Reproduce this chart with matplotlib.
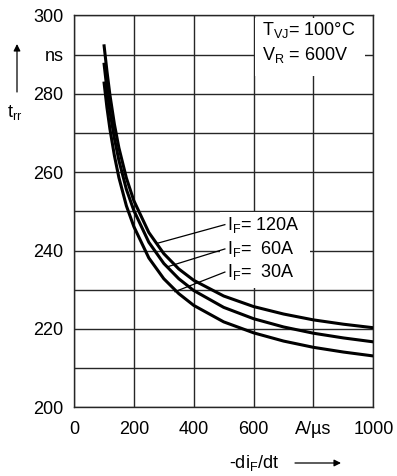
import matplotlib
matplotlib.use("Agg")
from matplotlib import pyplot as plt
from matplotlib.patches import Rectangle

plt.rcParams['font.family'] = ['Liberation Sans', 'DejaVu Sans']
plt.rcParams['mathtext.default'] = 'regular'

# curve readings (di/dt in A/us, trr in ns)
di_dt = [100, 110, 120, 135, 150, 175, 200, 250, 300, 350, 400, 500, 600, 700, 800, 900, 1000]
t_120 = [292.6, 285.8, 279.7, 272.2, 266.2, 258.5, 252.7, 244.6, 239.2, 235.3, 232.4, 228.4,
         225.7, 223.8, 222.3, 221.2, 220.3]
t_60 = [287.9, 281.2, 275.5, 268.6, 263.0, 255.6, 250.2, 242.1, 236.7, 232.8, 229.8, 225.5,
        222.6, 220.5, 218.9, 217.7, 216.7]
t_30 = [283.1, 276.5, 271.0, 264.2, 258.6, 251.4, 246.1, 238.1, 232.8, 229.0, 226.0, 221.8,
        219.0, 216.9, 215.3, 214.1, 213.1]

x_ticks = [0, 200, 400, 600, 800, 1000]
x_ticklabels = ['0', '200', '400', '600', 'A/\u00b5s', '1000']
y_ticks = list(range(200, 301, 10))
y_ticklabels = ['200', '', '220', '', '240', '', '260', '', '280', 'ns', '300']

labels = ['I$_F$= 120A', 'I$_F$=  60A', 'I$_F$=  30A']

fig = plt.figure(figsize=(3.97, 4.76), dpi=100)
ax = fig.add_axes([0.1864, 0.1443, 0.754, 0.8235])

for ts in [t_120, t_60, t_30]:
    ax.plot(di_dt, ts, color='black', lw=2.2, solid_capstyle='butt', zorder=4)

ax.set_xlim(0, 1000)
ax.set_ylim(200, 300)
ax.set_xticks(x_ticks)
ax.set_xticklabels(x_ticklabels)
ax.set_yticks(y_ticks)
ax.set_yticklabels(y_ticklabels)
ax.tick_params(length=0, labelsize=13)
ax.tick_params(axis='y', pad=7.5)
ax.tick_params(axis='x', pad=10)
ax.grid(True, color='0.15', lw=1.0)
for s in ax.spines.values():
    s.set_linewidth(1.0)
    s.set_color('0.15')

# conditions box top right
ax.add_patch(Rectangle((605, 284.5), 367, 14.8, facecolor='white', edgecolor='none', zorder=3))
ax.text(627, 296.2, 'T$_{VJ}$= 100\u00b0C', fontsize=13, va='center', ha='left', zorder=5)
ax.text(627, 289.9, 'V$_R$ = 600V', fontsize=13, va='center', ha='left', zorder=5)

# curve labels with leader lines
ax.add_patch(Rectangle((488, 230.4), 301, 19.4, facecolor='white', edgecolor='none', zorder=3))
label_y = [246.6, 240.4, 234.5]
leader_start = [(276, 241.8), (310, 235.8), (337, 229.5)]
for lab, ly, (sx, sy) in zip(labels, label_y, leader_start):
    ax.plot([sx, 504], [sy, ly], color='black', lw=0.9, zorder=4)
    ax.text(512, ly, lab, fontsize=13, va='center', ha='left', zorder=5)

# axis titles with arrows
arrow = dict(arrowstyle='-|>', mutation_scale=10, lw=0.9, color='black', shrinkA=0, shrinkB=0)
fig.text(15 / 397, 1 - 113 / 476, 't$_{rr}$', fontsize=13, ha='center', va='center')
ax.annotate('', xy=(17 / 397, 1 - 44 / 476), xytext=(17 / 397, 1 - 92 / 476),
            xycoords='figure fraction', textcoords='figure fraction',
            arrowprops=arrow, annotation_clip=False)
fig.text(254 / 397, 1 - 463 / 476, '-di$_F$/dt', fontsize=13, ha='center', va='center')
ax.annotate('', xy=(341 / 397, 1 - 463 / 476), xytext=(295 / 397, 1 - 463 / 476),
            xycoords='figure fraction', textcoords='figure fraction',
            arrowprops=arrow, annotation_clip=False)

fig.savefig('out.png', dpi=100)
plt.close(fig)
